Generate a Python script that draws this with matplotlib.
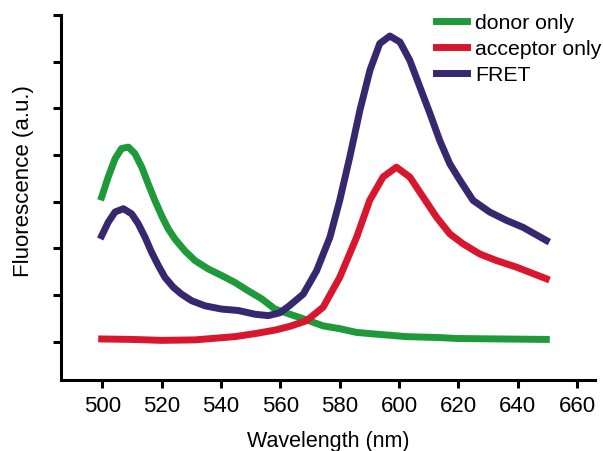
import numpy as np
from matplotlib import pyplot as plt

plt.rcParams["font.family"] = ["Liberation Sans", "DejaVu Sans"]

# donor only (green)
donor_x = [499.8, 502.0, 504.3, 506.5, 508.8, 511.0, 513.3, 515.5, 517.7,
           520.0, 522.2, 524.5, 527.8, 531.2, 535.7, 540.2, 544.7, 549.2,
           553.7, 558.2, 563.2, 568.8, 574.4, 580.0, 585.7, 591.0, 602.5,
           613.7, 619.3, 649.6]
donor_y = [4.10, 4.53, 4.92, 5.14, 5.17, 5.03, 4.74, 4.38, 4.03,
           3.70, 3.42, 3.20, 2.95, 2.74, 2.56, 2.42, 2.27, 2.09,
           1.92, 1.70, 1.59, 1.47, 1.34, 1.28, 1.20, 1.17, 1.11,
           1.09, 1.07, 1.05]

# acceptor only (red)
acc_x = [499.8, 510, 520, 531.2, 544.7, 552, 558.2, 563.2, 568.8, 574.4,
         580.0, 585.7, 590.1, 594.6, 599.1, 603.6, 608.1, 612.6, 617.1,
         621.5, 627.2, 632.8, 639.5, 649.6]
acc_y = [1.06, 1.05, 1.03, 1.04, 1.11, 1.18, 1.25, 1.33, 1.45, 1.74,
         2.38, 3.24, 4.03, 4.53, 4.74, 4.53, 4.10, 3.67, 3.31,
         3.10, 2.88, 2.74, 2.60, 2.35]

# FRET (purple)
fret_x = [499.8, 502.0, 504.3, 507.1, 509.9, 512.1, 514.4, 516.6, 518.9,
          521.1, 523.9, 526.7, 530.1, 534.6, 540.2, 545.8, 551.4, 555.9,
          559.8, 563.2, 567.7, 572.2, 576.7, 580.0, 583.4, 586.8, 590.2,
          593.5, 596.9, 600.3, 603.6, 607.0, 610.4, 613.7, 617.1, 620.5,
          624.9, 630.5, 636.2, 641.8, 649.6]
fret_y = [3.27, 3.56, 3.78, 3.85, 3.74, 3.53, 3.24, 2.92, 2.63,
          2.38, 2.17, 2.02, 1.88, 1.77, 1.70, 1.67, 1.59, 1.56,
          1.62, 1.78, 2.02, 2.52, 3.24, 4.03, 4.96, 5.96, 6.82,
          7.39, 7.55, 7.42, 7.03, 6.46, 5.89, 5.31, 4.81, 4.46,
          4.03, 3.78, 3.60, 3.45, 3.17]

xticks = [500, 520, 540, 560, 580, 600, 620, 640, 660]

fig = plt.figure(figsize=(6.03, 4.52), dpi=100)
ax = fig.add_axes([0.1007, 0.157, 0.886, 0.8076])

ax.plot(donor_x, donor_y, color="#1f9a3a", lw=5, label="donor only",
        solid_joinstyle="round")
ax.plot(acc_x, acc_y, color="#d8172e", lw=5, label="acceptor only",
        solid_joinstyle="round")
ax.plot(fret_x, fret_y, color="#35286e", lw=5, label="FRET",
        solid_joinstyle="round")

ax.set_xlim(486, 666)
ax.set_ylim(0.18, 8.0)
ax.set_xticks(xticks)
ax.set_yticks(np.arange(1, 9))
ax.set_yticklabels([])

for s in ["top", "right"]:
    ax.spines[s].set_visible(False)
for s in ["left", "bottom"]:
    ax.spines[s].set_linewidth(2.2)
ax.tick_params(width=2.2, length=6, labelsize=16, pad=5)

ax.set_xlabel("Wavelength (nm)", fontsize=15.5)
ax.set_ylabel("Fluorescence (a.u.)", fontsize=16)
ax.xaxis.set_label_coords(0.5, -0.137)
ax.yaxis.set_label_coords(-0.05, 0.548)

leg = ax.legend(loc="upper left", bbox_to_anchor=(436 / 603, 1 - 14 / 452),
                bbox_transform=fig.transFigure, frameon=False, fontsize=15.3,
                handlelength=1.45, handletextpad=0.4, borderpad=0,
                borderaxespad=0, labelspacing=0.33)

fig.savefig("out.png", dpi=100)
